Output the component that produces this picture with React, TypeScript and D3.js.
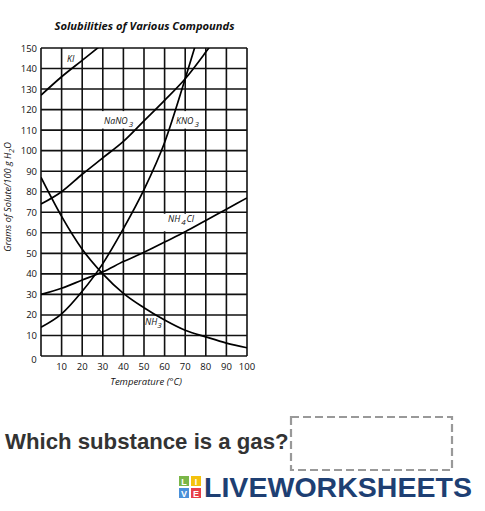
import React from "react";
import * as d3 from "d3";

const temps = [0, 10, 20, 30, 40, 50, 60, 70, 80, 90, 100];
const kiTemps = [0, 10, 20, 30, 40];
const kiValues = [127, 136, 144, 152, 160];
const nano3Values = [74, 80, 88.5, 96.5, 104.5, 114.5, 124.5, 135, 148, 162, 176];
const kno3Temps = [0, 10, 20, 30, 40, 50, 60, 70, 80];
const kno3Values = [14, 20.5, 31.5, 45, 62, 81, 104, 135, 168];
const nh4clValues = [30, 33, 37, 41, 46, 50.5, 55.5, 60.5, 66, 71.5, 77];
const nh3Values = [87, 68, 52, 40, 30.5, 23.5, 17.5, 12.5, 9.3, 6.3, 4];

const xTicks = [10, 20, 30, 40, 50, 60, 70, 80, 90, 100];
const yTicks = [10, 20, 30, 40, 50, 60, 70, 80, 90, 100, 110, 120, 130, 140, 150];

const x = d3.scaleLinear().domain([0, 100]).range([41, 247]);
const y = d3.scaleLinear().domain([0, 150]).range([356, 48]);

const line = d3
  .line<[number, number]>()
  .x((d) => x(d[0]))
  .y((d) => y(d[1]))
  .curve(d3.curveMonotoneX);

const zip = (a: number[], b: number[]) => a.map((t, i) => [t, b[i]] as [number, number]);

const series = [
  zip(kiTemps, kiValues),
  zip(temps, nano3Values),
  zip(kno3Temps, kno3Values),
  zip(temps, nh4clValues),
  zip(temps, nh3Values),
];

const chartFont = "'Open Sans', 'DejaVu Sans', sans-serif";

export default function App() {
  return (
    <svg
      width={485}
      height={511}
      style={{ position: "absolute", left: 0, top: 0, background: "#fff" }}
    >
      <defs>
        <clipPath id="plot">
          <rect x={x(0)} y={y(150)} width={x(100) - x(0)} height={y(0) - y(150)} />
        </clipPath>
      </defs>
      <text
        x={144.5}
        y={30}
        textAnchor="middle"
        fontFamily={chartFont}
        fontWeight="bold"
        fontStyle="italic"
        fontSize={11.2}
        fill="#111"
      >
        Solubilities of Various Compounds
      </text>
      {/* grid */}
      {[0, ...xTicks].map((t) => (
        <line key={"vx" + t} x1={x(t)} x2={x(t)} y1={y(0)} y2={y(150)} stroke="#111" strokeWidth={1.6} />
      ))}
      {[0, ...yTicks].map((t) => (
        <line key={"hy" + t} x1={x(0)} x2={x(100)} y1={y(t)} y2={y(t)} stroke="#111" strokeWidth={1.6} />
      ))}
      {/* label backgrounds */}
      <rect x={101} y={y(120) + 1.5} width={36} height={y(110) - y(120) - 3} fill="#fff" />
      <rect x={171} y={y(120) + 1.5} width={31} height={y(110) - y(120) - 3} fill="#fff" />
      <rect x={163} y={y(70) + 1.5} width={34} height={y(60) - y(70) - 3} fill="#fff" />
      {/* curves */}
      <g clipPath="url(#plot)">
        {series.map((s, i) => (
          <path key={i} d={line(s) || ""} fill="none" stroke="#000" strokeWidth={1.7} />
        ))}
      </g>
      {/* tick labels */}
      {yTicks.map((t) => (
        <text
          key={"yl" + t}
          x={37}
          y={y(t) + 3.5}
          textAnchor="end"
          fontFamily={chartFont}
          fontSize={9.5}
          fill="#111"
        >
          {t}
        </text>
      ))}
      <text x={34} y={363} textAnchor="middle" fontFamily={chartFont} fontSize={9.5} fill="#111">
        0
      </text>
      {xTicks.map((t) => (
        <text
          key={"xl" + t}
          x={x(t)}
          y={370}
          textAnchor="middle"
          fontFamily={chartFont}
          fontSize={9.5}
          fill="#111"
        >
          {t}
        </text>
      ))}
      <text
        x={146}
        y={385}
        textAnchor="middle"
        fontFamily={chartFont}
        fontStyle="italic"
        fontSize={9.5}
        fill="#111"
      >
        Temperature (°C)
      </text>
      <text
        transform={`translate(11,197) rotate(-90)`}
        textAnchor="middle"
        fontFamily={chartFont}
        fontStyle="italic"
        fontSize={9.2}
        fill="#111"
      >
        Grams of Solute/100 g H<tspan dy={2.5} fontSize={7}>2</tspan>
        <tspan dy={-2.5}>O</tspan>
      </text>
      {/* curve labels */}
      <g fontFamily={chartFont} fontStyle="italic" fontSize={8.8} fill="#111">
        <text x={67} y={62}>KI</text>
        <text x={104} y={124}>
          NaNO<tspan dx={1} dy={3} fontSize={8}>3</tspan>
        </text>
        <text x={176} y={124}>
          KNO<tspan dx={1} dy={3} fontSize={8}>3</tspan>
        </text>
        <text x={168} y={222}>
          NH<tspan dx={1} dy={2.5} fontSize={8}>4</tspan>
          <tspan dx={1} dy={-2.5}>Cl</tspan>
        </text>
        <text x={145} y={325}>
          NH<tspan dy={2.5} fontSize={8}>3</tspan>
        </text>
      </g>
      {/* question */}
      <text
        x={5}
        y={449}
        fontFamily="'Liberation Sans', Arial, sans-serif"
        fontWeight="bold"
        fontSize={22.2}
        fill="#333"
      >
        Which substance is a gas?
      </text>
      <rect
        x={291}
        y={417}
        width={161}
        height={53}
        fill="none"
        stroke="#999"
        strokeWidth={2.2}
        strokeDasharray="8 4"
      />
      {/* logo */}
      <g fontFamily="'Liberation Sans', Arial, sans-serif" fontWeight="bold">
        <rect x={179} y={476} width={10} height={10} fill="#7ab648" />
        <rect x={191} y={476} width={10} height={10} fill="#f4c20d" />
        <rect x={179} y={488} width={10} height={10} fill="#4a90d9" />
        <rect x={191} y={488} width={10} height={10} fill="#e8404a" />
        <text x={184} y={484.5} fontSize={9} textAnchor="middle" fill="#fff">L</text>
        <text x={196} y={484.5} fontSize={9} textAnchor="middle" fill="#fff">I</text>
        <text x={184} y={496.5} fontSize={9} textAnchor="middle" fill="#fff">V</text>
        <text x={196} y={496.5} fontSize={9} textAnchor="middle" fill="#fff">E</text>
        <text x={204} y={497} fontSize={28.5} fill="#1e3f73" textLength={268} lengthAdjust="spacingAndGlyphs">
          LIVEWORKSHEETS
        </text>
      </g>
    </svg>
  );
}
